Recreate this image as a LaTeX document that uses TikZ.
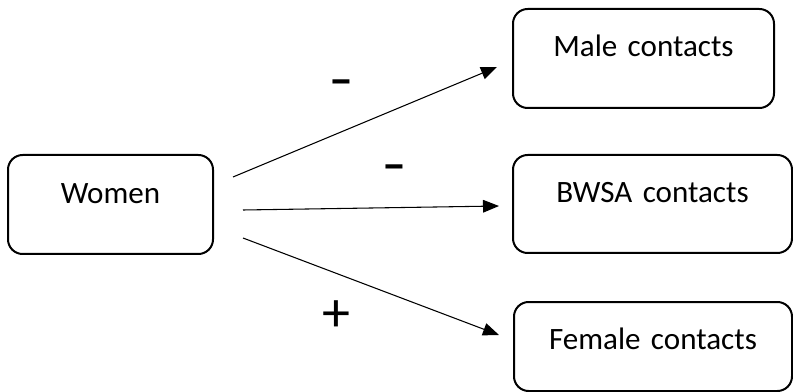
\documentclass[tikz,border=0pt]{standalone}
\usepackage{fontspec}
\setmainfont{Carlito}
\usetikzlibrary{arrows.meta,positioning}

\begin{document}
\begin{tikzpicture}[x=0.75pt,y=-0.75pt,
box/.style={draw,rounded corners=11pt,line width=1.5pt,inner sep=0pt,align=center,anchor=base,
 font=\fontsize{23.3}{28}\selectfont},
arrow/.style={-{Triangle[length=12pt,width=9.5pt]},line width=.8pt},
sign/.style={font=\fontsize{#1}{#1}\selectfont\bfseries,inner sep=0pt}]
\useasboundingbox (0,0) rectangle (793,392);
\node[box,text width=153.75pt,text height=36.75pt,text depth=37.5pt] (women) at (110.5,204) {Women};
\node[box,text width=195.75pt,text height=36pt,text depth=38.25pt] (male) at (643.5,57) {Male contacts};
\node[box,text width=209.25pt,text height=36pt,text depth=37.5pt] (bwsa) at (652.5,203) {BWSA contacts};
\node[box,text width=208.5pt,text height=35.25pt,text depth=31.5pt] (female) at (653,349) {Female contacts};
% connector ends
\coordinate (wm) at (233,177);
\coordinate (wb) at (243,210);
\coordinate (wf) at (243,238);
\coordinate (tm) at (497,67);
\coordinate (tb) at (499,206);
\coordinate (tf) at (499,335);
\draw[arrow] (wm)--(tm);
\draw[arrow] (wb)--(tb);
\draw[arrow] (wf)--(tf);
% signs
\node[sign=36] (signm) at (341,87.5) {--};
\node[sign=36] (signb) at (394.5,173) {--};
\node[inner sep=0pt,font=\fontsize{42}{42}\selectfont] (signf) at (336,316) {+};
\end{tikzpicture}
\end{document}
